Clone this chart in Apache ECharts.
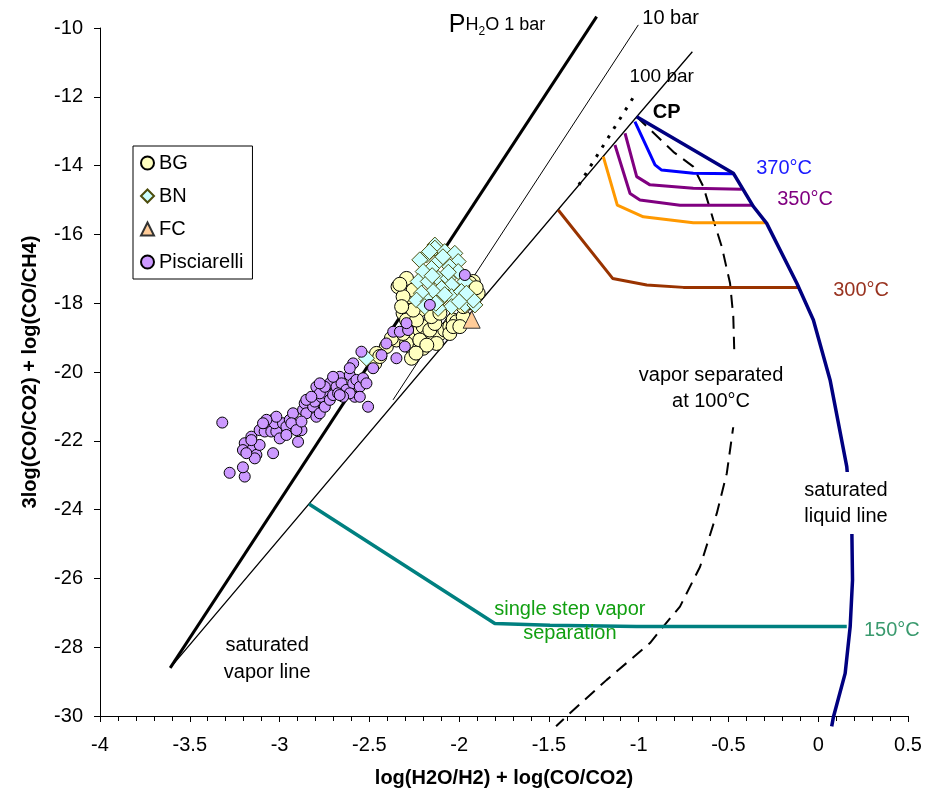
<!DOCTYPE html>
<html><head><meta charset="utf-8">
<script src="https://cdn.jsdelivr.net/npm/echarts@6/dist/echarts.min.js"></script>
<style>html,body{margin:0;padding:0;background:#fff}#c{width:925px;height:800px}</style>
</head><body><div id="c"></div>
<script>
// ---- axis ticks ----
const xTicks = [-4, -3.5, -3, -2.5, -2, -1.5, -1, -0.5, 0, 0.5];
const yTicks = [-30, -28, -26, -24, -22, -20, -18, -16, -14, -12, -10];

// ---- reference lines ----
const line1bar = [[-3.609, -28.6], [-1.234, -9.67]];
const line10bar = [[-2.368, -20.81], [-1.002, -9.91]];
const satVapor = [[-3.609, -28.6], [-1.011, -12.58], [-0.701, -10.69]];
const dotted100 = [[-1.333, -14.56], [-1.029, -12.01]];
const satLiquid = [[-1.011, -12.58], [-0.473, -14.22], [-0.361, -15.19], [-0.287, -15.68], [-0.119, -17.42], [-0.027, -18.49], [0.066, -20.23], [0.159, -22.75], [0.187, -24.50], [0.191, -26.05], [0.178, -27.40], [0.150, -28.76], [0.085, -30.02], [0.075, -30.3]];
const vapSep100 = [[-1.011, -12.58], [-0.807, -13.60], [-0.696, -14.03], [-0.640, -14.61], [-0.584, -15.58], [-0.537, -16.36], [-0.491, -17.42], [-0.473, -18.39], [-0.463, -20.23], [-0.473, -21.59], [-0.509, -22.94], [-0.565, -24.11], [-0.658, -25.66], [-0.770, -26.82], [-0.863, -27.40], [-0.937, -27.88], [-1.178, -28.95], [-1.383, -29.92], [-1.46, -30.3]];
const iso370 = [[-1.021, -12.72], [-0.909, -13.98], [-0.872, -14.13], [-0.696, -14.22], [-0.473, -14.24]];
const iso360 = [[-1.076, -13.06], [-1.011, -14.32], [-0.937, -14.56], [-0.696, -14.66], [-0.426, -14.69]];
const iso350 = [[-1.132, -13.40], [-1.048, -14.81], [-0.993, -15.00], [-0.770, -15.15], [-0.370, -15.15]];
const iso340 = [[-1.197, -13.74], [-1.119, -15.15], [-0.974, -15.49], [-0.696, -15.66], [-0.296, -15.66]];
const iso300 = [[-1.448, -15.29], [-1.145, -17.28], [-0.955, -17.47], [-0.751, -17.54], [-0.110, -17.54]];
const iso150 = [[-2.836, -23.84], [-1.801, -27.31], [-1.494, -27.36], [-1.011, -27.40], [0.159, -27.40]];

// ---- samples ----
const BG = [[-2.340,-17.52],[-2.293,-17.28],[-2.302,-18.00],[-2.312,-18.29],[-2.293,-18.49],[-2.275,-18.68],[-2.256,-18.88],[-2.219,-18.78],[-2.200,-18.68],[-2.182,-18.97],[-2.144,-19.07],[-2.107,-18.88],[-2.080,-18.78],[-2.052,-18.68],[-2.033,-18.49],[-2.014,-18.54],[-1.977,-18.39],[-1.921,-17.37],[-1.894,-17.71],[-1.921,-18.00],[-1.959,-18.00],[-2.275,-17.81],[-2.256,-17.62],[-2.219,-18.20],[-2.256,-19.36],[-2.200,-19.31],[-2.265,-19.60],[-2.405,-19.26],[-2.460,-19.46],[-2.349,-19.07],[-2.293,-19.17],[-1.940,-17.42],[-1.949,-17.52],[-2.052,-18.88],[-2.126,-19.17],[-2.163,-18.78],[-2.237,-18.49],[-2.256,-18.20],[-1.977,-18.10],[-2.312,-17.81],[-2.033,-18.68],[-1.996,-18.68],[-2.470,-19.75],[-2.442,-19.55],[-2.377,-19.02],[-2.312,-18.88],[-2.219,-19.07],[-2.135,-18.59],[-2.154,-18.39],[-2.107,-18.29],[-2.330,-17.45],[-2.320,-18.10],[-1.905,-17.55],[-2.180,-19.22],[-2.240,-19.45]];
const BN = [[-2.135,-16.31],[-2.135,-16.40],[-2.182,-16.60],[-2.219,-16.74],[-2.080,-16.50],[-2.024,-16.55],[-2.005,-16.79],[-2.052,-16.94],[-2.117,-16.79],[-2.154,-16.99],[-2.200,-17.08],[-2.228,-17.37],[-2.172,-17.37],[-2.117,-17.28],[-2.061,-17.28],[-2.005,-17.08],[-1.968,-17.37],[-2.042,-17.47],[-2.098,-17.57],[-2.145,-17.66],[-2.210,-17.71],[-2.237,-17.91],[-2.172,-17.95],[-2.107,-17.91],[-2.042,-17.81],[-1.987,-17.66],[-1.931,-17.86],[-1.968,-18.05],[-2.042,-18.10],[-2.117,-18.15],[-2.191,-18.10],[-1.912,-18.05],[-1.921,-17.91],[-1.959,-17.71],[-2.516,-19.60],[-2.165,-16.50],[-2.090,-16.65],[-2.060,-17.10],[-2.150,-17.20],[-2.080,-17.75],[-2.000,-17.95],[-2.130,-18.00]];
const FC = [[-1.930, -18.48]];
const PIS = [[-3.319,-21.47],[-3.278,-22.93],[-3.194,-23.04],[-3.204,-22.77],[-3.194,-22.07],[-3.204,-22.27],[-3.148,-22.22],[-3.129,-22.41],[-3.138,-22.51],[-3.157,-21.88],[-3.111,-21.69],[-3.083,-21.73],[-3.055,-21.54],[-3.036,-21.39],[-3.046,-21.73],[-3.018,-21.73],[-2.999,-21.93],[-3.027,-21.49],[-2.981,-21.49],[-2.962,-21.59],[-2.943,-21.39],[-2.925,-21.20],[-2.934,-21.49],[-2.897,-22.03],[-2.878,-21.69],[-2.869,-21.10],[-2.860,-20.91],[-2.851,-21.20],[-2.813,-21.01],[-2.804,-20.86],[-2.795,-21.30],[-2.776,-21.20],[-2.767,-20.72],[-2.748,-21.01],[-2.739,-20.62],[-2.720,-20.81],[-2.720,-20.33],[-2.702,-20.67],[-2.683,-20.43],[-2.665,-20.14],[-2.655,-20.33],[-2.628,-20.52],[-2.609,-20.09],[-2.590,-20.33],[-2.581,-20.72],[-2.572,-20.23],[-2.553,-20.43],[-2.535,-20.18],[-2.516,-20.33],[-2.507,-21.01],[-2.590,-19.75],[-2.544,-19.41],[-2.479,-19.89],[-2.432,-19.51],[-2.405,-19.17],[-2.349,-19.60],[-2.302,-19.26],[-2.367,-18.83],[-2.330,-18.83],[-2.284,-18.78],[-2.163,-18.05],[-1.968,-17.18],[-2.795,-20.43],[-2.776,-20.62],[-3.018,-21.30],[-3.073,-21.39],[-3.092,-21.49],[-3.111,-22.12],[-3.036,-22.36],[-3.185,-22.36],[-3.157,-21.98],[-2.851,-20.81],[-2.823,-20.72],[-2.702,-20.14],[-2.674,-20.62],[-2.609,-20.62],[-2.646,-20.72],[-2.553,-20.72],[-2.962,-21.83],[-2.906,-21.69],[-2.878,-21.44],[-2.748,-20.43],[-2.776,-20.33],[-2.609,-19.89],[-2.665,-20.67],[-2.293,-18.58]];

// ---- annotations ----
const annoText = ['{p|P}{h|H}{s|2}{h|O 1 bar}', '10 bar', '100 bar', 'CP', '370°C', '350°C', '300°C', 'vapor separated\nat 100°C', 'saturated\nliquid line', '150°C', 'single step vapor\nseparation', 'saturated\nvapor line'];
const annoPos = [[-1.789, -9.91], [-0.822, -9.72], [-0.872, -11.43], [-0.844, -12.46], [-0.190, -14.08], [-0.073, -14.98], [0.239, -17.62], [-0.597, -20.47], [0.155, -23.81], [0.410, -27.50], [-1.383, -27.24], [-3.069, -28.34]];
const annoColor = ['#000', '#000', '#000', '#000', '#1a1aff', '#800080', '#993320', '#000', '#000', '#3a9a6e', '#12a012', '#000'];

const FONT = "'Liberation Sans', Arial, sans-serif";

function lineSeries(data, color, width, extra) {
  return Object.assign({
    type: 'line', data: data, showSymbol: false, symbol: 'none', clip: false, silent: true,
    lineStyle: { color: color, width: width }, z: 2
  }, extra || {});
}

const annoStyles = [
  { fontSize: 20, rich: { p: { fontSize: 25, fontFamily: FONT, color: '#000' }, h: { fontSize: 18, fontFamily: FONT, color: '#000' }, s: { fontSize: 12, lineHeight: 12, fontFamily: FONT, color: '#000', verticalAlign: 'bottom' } } },
  { fontSize: 20 }, { fontSize: 19 }, { fontSize: 20, fontWeight: 'bold' },
  { fontSize: 20 }, { fontSize: 20 }, { fontSize: 20 },
  { fontSize: 20, lineHeight: 26, backgroundColor: '#fff', padding: [14, 4, 12, 4] },
  { fontSize: 20, lineHeight: 26, backgroundColor: '#fff', padding: [10, 3, 0, 3] },
  { fontSize: 20 }, { fontSize: 20, lineHeight: 24 }, { fontSize: 20, lineHeight: 27 }
];

const annoData = annoPos.map((p, i) => ({
  value: p,
  label: Object.assign({ show: true, position: 'inside', formatter: annoText[i], color: annoColor[i], fontFamily: FONT, align: 'center', verticalAlign: 'middle', textBorderWidth: 0 }, annoStyles[i])
}));

const chart = echarts.init(document.getElementById('c'), null, { renderer: 'canvas' });
chart.setOption({
  animation: false,
  backgroundColor: '#fff',
  textStyle: { fontFamily: FONT },
  grid: { left: 100, right: 17, top: 28, bottom: 84 },
  legend: {
    data: ['BG', 'BN', 'FC', 'Pisciarelli'],
    orient: 'vertical', left: 133, top: 146,
    itemWidth: 13, itemHeight: 13, itemGap: 11,
    padding: [6, 9, 6, 7],
    borderColor: '#000', borderWidth: 1, backgroundColor: '#fff',
    selectedMode: false,
    textStyle: { fontSize: 20, lineHeight: 22, color: '#000', fontFamily: FONT }
  },
  xAxis: {
    type: 'value', min: xTicks[0], max: xTicks[xTicks.length - 1], interval: 0.5,
    name: 'log(H2O/H2) + log(CO/CO2)', nameLocation: 'middle', nameGap: 52,
    nameTextStyle: { fontSize: 20, fontWeight: 'bold', color: '#000', fontFamily: FONT },
    axisLine: { onZero: false, lineStyle: { color: '#000', width: 1 } },
    axisTick: { length: 6, lineStyle: { color: '#000' } },
    minorTick: { show: true, splitNumber: 5, length: 5, lineStyle: { color: '#000' } },
    splitLine: { show: false },
    axisLabel: { fontSize: 20, color: '#000', margin: 19, fontFamily: FONT }
  },
  yAxis: {
    type: 'value', min: yTicks[0], max: yTicks[yTicks.length - 1], interval: 2,
    name: '3log(CO/CO2) + log(CO/CH4)', nameLocation: 'middle', nameGap: 60, nameRotate: 90,
    nameTextStyle: { fontSize: 20, fontWeight: 'bold', color: '#000', fontFamily: FONT },
    axisLine: { show: true, onZero: false, lineStyle: { color: '#000', width: 1 } },
    axisTick: { show: true, length: 6, lineStyle: { color: '#000' } },
    splitLine: { show: false },
    axisLabel: { fontSize: 20, color: '#000', margin: 17, fontFamily: FONT }
  },
  series: [
    lineSeries(line1bar, '#000', 3),
    lineSeries(line10bar, '#000', 1),
    lineSeries(satVapor, '#000', 1.3),
    lineSeries(dotted100, '#000', 3, { lineStyle: { color: '#000', width: 3, type: [3, 8] } }),
    lineSeries(vapSep100, '#000', 2, { lineStyle: { color: '#000', width: 2, type: [13, 8] } }),
    lineSeries(iso300, '#993300', 3),
    lineSeries(iso340, '#ff9900', 3),
    lineSeries(iso350, '#800080', 3),
    lineSeries(iso360, '#800080', 3),
    lineSeries(iso370, '#0000ff', 3),
    lineSeries(iso150, '#008080', 3.5),
    lineSeries(satLiquid, '#000080', 3.5),
    { name: 'BG', type: 'scatter', data: BG, symbol: 'circle', symbolSize: 14, z: 4,
      itemStyle: { color: '#ffffc0', borderColor: '#000', borderWidth: 1, opacity: 1 } },
    { name: 'BN', type: 'scatter', data: BN, symbol: 'diamond', symbolSize: 16, z: 4,
      itemStyle: { color: '#ccffff', borderColor: '#4d4d0d', borderWidth: 1, opacity: 1 } },
    { name: 'FC', type: 'scatter', data: FC, symbol: 'triangle', symbolSize: 17, z: 4,
      itemStyle: { color: '#ffcc99', borderColor: '#333', borderWidth: 1, opacity: 1 } },
    { name: 'Pisciarelli', type: 'scatter', data: PIS, symbol: 'circle', symbolSize: 11, z: 4,
      itemStyle: { color: '#cc99ff', borderColor: '#000', borderWidth: 1, opacity: 1 } },
    { name: 'annotations', type: 'scatter', data: annoData, symbol: 'circle', symbolSize: 1, clip: false, silent: true, z: 6,
      itemStyle: { color: 'rgba(0,0,0,0)', opacity: 1 }, labelLayout: { hideOverlap: false } }
  ]
});
</script>
</body></html>
